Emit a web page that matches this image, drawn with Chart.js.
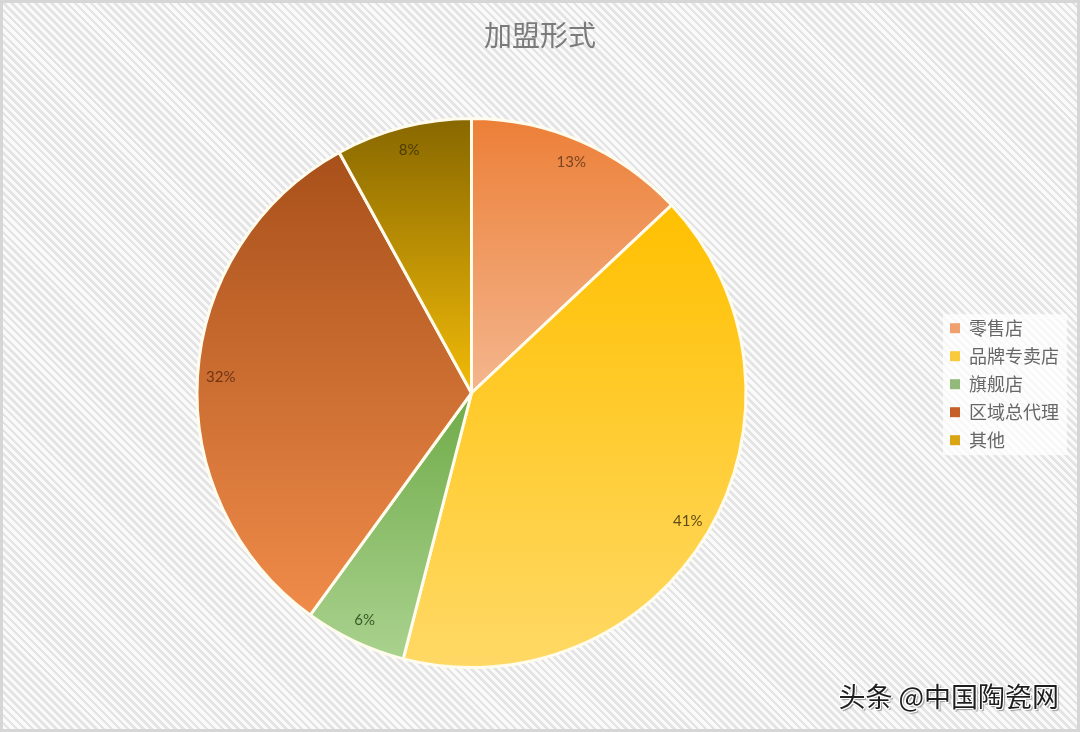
<!DOCTYPE html>
<html lang="zh">
<head>
<meta charset="UTF-8">
<title>加盟形式</title>
<script src="https://cdn.jsdelivr.net/npm/chart.js@4/dist/chart.umd.min.js"></script>
<style>
  html, body { margin: 0; padding: 0; }
  .frame {
    position: relative;
    width: 1080px;
    height: 732px;
    box-sizing: border-box;
    border: 3px solid #d6d6d6;
    background: repeating-linear-gradient(45deg, #fafafa 0px, #fafafa 3px, #e4e4e4 3px, #e4e4e4 5.6px);
  }
  canvas { position: absolute; left: -3px; top: -3px; }
  .title {
    position: absolute;
    left: 0;
    width: 1074px;
    top: 15px;
    text-align: center;
    font-family: "Noto Sans CJK SC", sans-serif;
    font-size: 28px;
    line-height: 33.6px;
    color: #7b7b7b;
  }
  .mark {
    position: absolute;
    right: 18px;
    bottom: 14px;
    font-family: "Noto Sans CJK SC", sans-serif;
    font-size: 27px;
    color: #1e1e1e;
    text-shadow: 1px 1px 0 #fff, -1px -1px 0 #fff, 1px -1px 0 #fff, -1px 1px 0 #fff, 2px 2px 1px #999;
  }
</style>
</head>
<body>
<div class="frame">
  <canvas id="pie" width="1080" height="732"></canvas>
  <div class="title">加盟形式</div>
  <div class="mark">头条 @中国陶瓷网</div>
</div>
<script>
// data
const categories = ['零售店', '品牌专卖店', '旗舰店', '区域总代理', '其他'];
const shares = [13, 41, 6, 32, 8];

// gradient top / bottom colours per slice, legend swatch colours
const topColors = ['#ec7f37', '#ffc000', '#6fab48', '#a8501a', '#876700'];
const bottomColors = ['#f4b68e', '#ffd966', '#aad28f', '#f08c4a', '#f2bb08'];
const swatchColors = ['#efa06c', '#f9cb3c', '#93b97a', '#c5602a', '#d9a514'];
const labelColors = ['#7a4522', '#5e4b17', '#3b5a28', '#6e3517', '#4d3b00'];

const total = shares.reduce((a, b) => a + b, 0);

// vertical extent of slice i, used for its gradient
function sliceSpan(chart, i) {
  const area = chart.chartArea;
  const cx = (area.left + area.right) / 2;
  const cy = (area.top + area.bottom) / 2;
  const r = Math.min(area.right - area.left, area.bottom - area.top) / 2;
  let before = 0;
  for (let k = 0; k < i; k++) before += shares[k];
  const a0 = -Math.PI / 2 + before / total * Math.PI * 2;
  const a1 = a0 + shares[i] / total * Math.PI * 2;
  const ys = [cy, cy + r * Math.sin(a0), cy + r * Math.sin(a1)];
  if (a0 <= -Math.PI / 2 && a1 >= -Math.PI / 2) ys.push(cy - r);
  if (a0 <= Math.PI / 2 && a1 >= Math.PI / 2) ys.push(cy + r);
  if (a0 <= Math.PI * 1.5 && a1 >= Math.PI * 1.5) ys.push(cy - r);
  return [Math.min(...ys), Math.max(...ys)];
}

function sliceFill(context) {
  const chart = context.chart;
  const i = context.dataIndex;
  if (!chart.chartArea || i === undefined) return topColors[i || 0];
  const [y0, y1] = sliceSpan(chart, i);
  const g = chart.ctx.createLinearGradient(0, y0, 0, y1);
  g.addColorStop(0, topColors[i]);
  g.addColorStop(1, bottomColors[i]);
  return g;
}

// percent labels near the outer edge
const sliceLabels = {
  id: 'sliceLabels',
  afterDatasetsDraw(chart) {
    const ctx = chart.ctx;
    const meta = chart.getDatasetMeta(0);
    ctx.save();
    ctx.font = '15px Lato, "Open Sans", sans-serif';
    ctx.textAlign = 'center';
    ctx.textBaseline = 'middle';
    meta.data.forEach((arc, i) => {
      const p = arc.getProps(['x', 'y', 'startAngle', 'endAngle', 'outerRadius']);
      const mid = (p.startAngle + p.endAngle) / 2;
      const r = p.outerRadius * 0.915;
      ctx.fillStyle = labelColors[i];
      ctx.fillText(Math.round(shares[i] / total * 100) + '%', p.x + r * Math.cos(mid), p.y + r * Math.sin(mid));
    });
    ctx.restore();
  }
};

// pale box behind the legend
const legendBox = {
  id: 'legendBox',
  beforeDraw(chart) {
    const boxes = chart.legend && chart.legend.legendHitBoxes;
    if (!boxes || !boxes.length) return;
    const left = Math.min(...boxes.map(b => b.left)) - 7;
    const top = Math.min(...boxes.map(b => b.top)) - 5;
    const right = Math.max(...boxes.map(b => b.left + b.width)) + 8;
    const bottom = Math.max(...boxes.map(b => b.top + b.height)) + 6;
    const ctx = chart.ctx;
    ctx.save();
    ctx.fillStyle = 'rgba(255,255,255,0.75)';
    ctx.fillRect(left, top, right - left, bottom - top);
    ctx.restore();
  }
};

new Chart(document.getElementById('pie'), {
  type: 'pie',
  data: {
    labels: categories,
    datasets: [{
      data: shares,
      backgroundColor: sliceFill,
      borderColor: '#fffcee',
      borderWidth: 3
    }]
  },
  plugins: [legendBox, sliceLabels],
  options: {
    responsive: false,
    animation: false,
    layout: { padding: { top: 117, bottom: 63, left: 3, right: 11 } },
    plugins: {
      title: { display: false },
      legend: {
        position: 'right',
        align: 'start',
        // empty legend title used only as a top spacer
        title: {
          display: true,
          text: ' ',
          font: { size: 1 },
          padding: { top: 191, bottom: 0 }
        },
        labels: {
          boxWidth: 10,
          boxHeight: 10,
          padding: 10,
          color: '#5f5f5f',
          font: { family: '"Noto Sans CJK SC", sans-serif', size: 18 },
          generateLabels(chart) {
            return categories.map((c, i) => ({
              text: c,
              fillStyle: swatchColors[i],
              strokeStyle: swatchColors[i],
              lineWidth: 0,
              index: i,
              hidden: false
            }));
          }
        }
      },
      tooltip: { enabled: false }
    }
  }
});
</script>
</body>
</html>
